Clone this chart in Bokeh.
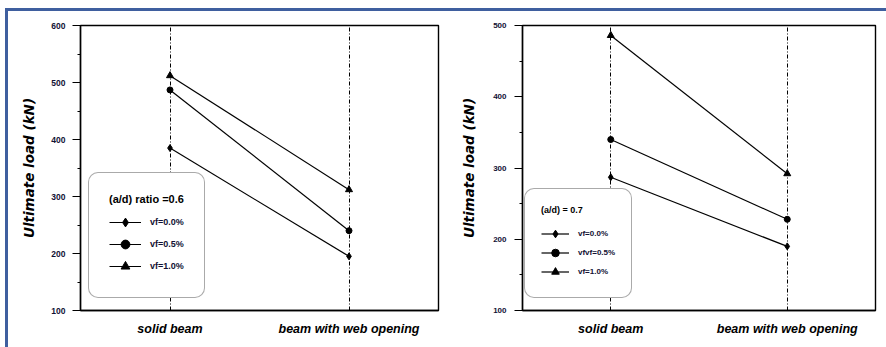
from bokeh.plotting import figure
from bokeh.models import FactorRange, Range1d, Legend, LegendItem, SingleIntervalTicker
from bokeh.layouts import row
from bokeh.embed import file_html
from bokeh.resources import INLINE

# ---- data ----
categories = ["solid beam", "beam with web opening"]

left_vf00 = [385, 195]
left_vf05 = [487, 240]
left_vf10 = [512, 312]

right_vf00 = [287, 190]
right_vf05 = [340, 228]
right_vf10 = [486, 292]

left_labels = ["vf=0.0%", "vf=0.5%", "vf=1.0%"]
right_labels = ["vf=0.0%", "vfvf=0.5%", "vf=1.0%"]
left_legend_title = "(a/d) ratio =0.6"
right_legend_title = "(a/d) = 0.7"
y_title = "Ultimate load (kN)"
left_ylim = (100, 600)
right_ylim = (100, 500)

markers = ["diamond", "circle", "triangle"]
marker_sizes = [7, 6, 7]
FONT = "Liberation Sans, Arial, sans-serif"
TITLE_FONT = "DejaVu Sans, Liberation Sans, sans-serif"


def panel(series, labels, ylim, legend_title, dims, tick_size, leg):
    width, height, bl, br, bt, bb = dims
    p = figure(x_range=FactorRange(factors=categories),
               y_range=Range1d(*ylim),
               width=width, height=height,
               min_border_left=bl, min_border_right=br,
               min_border_top=bt, min_border_bottom=bb,
               output_backend="svg", toolbar_location=None,
               background_fill_color="white", border_fill_color="white")
    p.outline_line_color = "black"
    p.outline_line_width = 1.4

    # y axis
    ya = p.yaxis[0]
    ya.ticker = SingleIntervalTicker(interval=100, num_minor_ticks=2)
    ya.major_tick_in = 0
    ya.major_tick_out = 8
    ya.minor_tick_in = 0
    ya.minor_tick_out = 3
    ya.axis_line_color = "black"
    ya.axis_line_width = 1.4
    ya.major_tick_line_color = "black"
    ya.minor_tick_line_color = "black"
    ya.major_label_text_font = FONT
    ya.major_label_text_font_style = "bold"
    ya.major_label_text_font_size = tick_size
    ya.major_label_text_color = "#111133"
    ya.major_label_standoff = leg["ystand"]
    ya.axis_label = y_title
    ya.axis_label_text_font = TITLE_FONT
    ya.axis_label_text_font_style = "bold italic"
    ya.axis_label_text_font_size = "13.5px"
    ya.axis_label_text_color = "black"
    ya.axis_label_standoff = leg["ylabstand"]

    # x axis
    xa = p.xaxis[0]
    xa.major_tick_in = 0
    xa.major_tick_out = 0
    xa.minor_tick_line_color = None
    xa.axis_line_color = "black"
    xa.axis_line_width = 1.4
    xa.major_label_text_font = FONT
    xa.major_label_text_font_style = "bold italic"
    xa.major_label_text_font_size = "12.5px"
    xa.major_label_text_color = "black"
    xa.major_label_standoff = 11

    # dash-dot vertical lines at categories
    p.xgrid.grid_line_color = "black"
    p.xgrid.grid_line_width = 1
    p.xgrid.grid_line_dash = "4 2 1 2"
    p.ygrid.grid_line_color = None

    items = []
    for vals, lab, mk, ms in zip(series, labels, markers, marker_sizes):
        lr = p.line(categories, vals, line_color="black", line_width=1.2)
        sr = p.scatter(categories, vals, marker=mk, size=ms,
                       fill_color="black", line_color="black")
        items.append(LegendItem(label=lab, renderers=[lr, sr]))

    lg = Legend(items=items, title=legend_title,
                location=leg["loc"],
                padding=leg["pad"], spacing=0,
                glyph_width=leg["gw"], glyph_height=leg["gh"],
                label_height=leg["lh"], label_standoff=leg["lstand"],
                title_standoff=leg["tstand"],
                border_line_color="#555555", border_line_width=1.2,
                background_fill_color="white", background_fill_alpha=1.0,
                margin=0)
    lg.label_text_font = FONT
    lg.label_text_font_style = "bold"
    lg.label_text_font_size = leg["lfs"]
    lg.label_text_color = "#111133"
    lg.title_text_font = FONT
    lg.title_text_font_style = "bold"
    lg.title_text_font_size = leg["tfs"]
    lg.title_text_color = "black"
    if "border_radius" in Legend.properties():
        lg.border_radius = 10
    p.add_layout(lg)
    return p


p1 = panel([left_vf00, left_vf05, left_vf10], left_labels, left_ylim,
           left_legend_title, (442, 336, 72, 12, 14, 37), "8.5px",
           dict(loc=(8, 12), pad=20, gw=32, gh=22, lh=14,
                lstand=9, tstand=6, lfs="9px", tfs="11px",
                ystand=7, ylabstand=11))
p2 = panel([right_vf00, right_vf05, right_vf10], right_labels, right_ylim,
           right_legend_title, (436, 336, 72, 11, 13, 35), "8px",
           dict(loc=(2, 12), pad=16, gw=28, gh=19, lh=12,
                lstand=9, tstand=9, lfs="8px", tfs="9px",
                ystand=8, ylabstand=13))

layout = row(p1, p2, styles={"border-top": "3px solid #3f5f9f",
                             "border-left": "3px solid #3f5f9f",
                             "margin-top": "8px",
                             "margin-left": "5px"})

open("out.html", "w").write(file_html(layout, INLINE))
